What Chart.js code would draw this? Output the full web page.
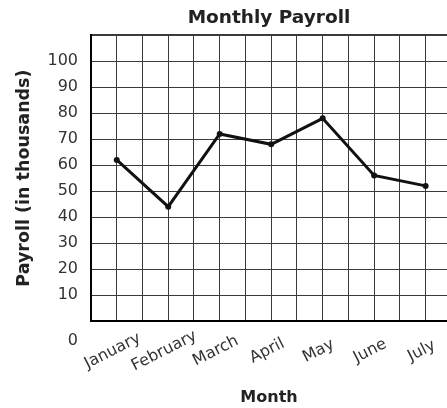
<!DOCTYPE html>
<html><head><meta charset="utf-8">
<script src="https://cdn.jsdelivr.net/npm/chart.js@4.4.1/dist/chart.umd.min.js"></script>
<style>html,body{margin:0;padding:0;background:#fff}#wrap{width:447px;height:408px;position:relative}</style>
</head><body><div id="wrap"><canvas id="c"></canvas></div>
<script>
const months = ['January','February','March','April','May','June','July'];
const payroll = [62, 44, 72, 68, 78, 56, 52];
const yTickValues = [0,10,20,30,40,50,60,70,80,90,100];
const chartTitle = 'Monthly Payroll';
const yTitle = 'Payroll (in thousands)';
const xTitle = 'Month';

const FONT = '"DejaVu Sans", Verdana, sans-serif';
const GRID = '#3a3a3a';

const monthLabels = {
  id: 'monthLabels',
  afterDraw(chart) {
    const xs = chart.scales.x, ctx = chart.ctx;
    ctx.save();
    ctx.font = '16px ' + FONT;
    ctx.fillStyle = '#333';
    ctx.textAlign = 'center';
    ctx.textBaseline = 'middle';
    months.forEach((m, i) => {
      const px = xs.getPixelForValue(2 * i + 1);
      ctx.save();
      ctx.translate(px - 4, xs.top + 30);
      ctx.rotate(-27 * Math.PI / 180);
      ctx.fillText(m, 0, 0);
      ctx.restore();
    });
    ctx.restore();
  }
};

new Chart(document.getElementById('c'), {
  type: 'line',
  data: {
    datasets: [{
      data: months.map((m, i) => ({x: 2 * i + 1, y: payroll[i]})),
      borderColor: '#111',
      backgroundColor: '#111',
      borderWidth: 3,
      pointRadius: 3,
      pointBackgroundColor: '#111',
      pointBorderWidth: 0,
      tension: 0,
      fill: false,
      clip: false
    }]
  },
  options: {
    responsive: true,
    maintainAspectRatio: false,
    devicePixelRatio: 1,
    animation: false,
    layout: {padding: 0, autoPadding: false},
    plugins: {
      legend: {display: false},
      tooltip: {enabled: false},
      title: {
        display: true,
        fullSize: false,
        text: chartTitle,
        color: '#222',
        font: {family: FONT, size: 18.5, weight: 'bold', lineHeight: 1.2},
        padding: {top: 7.5, bottom: 5.5}
      }
    },
    scales: {
      x: {
        type: 'linear',
        min: 0,
        max: 13.83,
        ticks: {display: false, stepSize: 1, includeBounds: false},
        grid: {color: GRID, lineWidth: 1, drawTicks: false},
        border: {color: '#000', width: 2},
        title: {
          display: true, text: xTitle, color: '#222',
          font: {family: FONT, size: 16, weight: 'bold', lineHeight: 1.2},
          padding: {top: 0, bottom: 1}
        },
        afterFit(s) { s.height = 87; }
      },
      y: {
        min: 0,
        max: 110,
        ticks: {
          stepSize: 10,
          autoSkip: false,
          padding: 13,
          color: '#333',
          font: {family: FONT, size: 16, lineHeight: 1.25},
          callback(v) {
            if (!yTickValues.includes(v)) return '';
            if (v === 0) return ['', '', String(v)];
            return String(v);
          }
        },
        grid: {
          color: GRID,
          lineWidth: (c) => (c.tick && c.tick.value === 110 ? 2 : 1),
          drawTicks: false
        },
        border: {color: '#000', width: 2},
        title: {
          display: true, text: yTitle, color: '#222',
          font: {family: FONT, size: 17.5, weight: 'bold', lineHeight: 1.2},
          padding: {top: 14, bottom: 0}
        },
        afterFit(s) { s.width = 91; }
      }
    }
  },
  plugins: [monthLabels]
});
</script>
</body></html>
